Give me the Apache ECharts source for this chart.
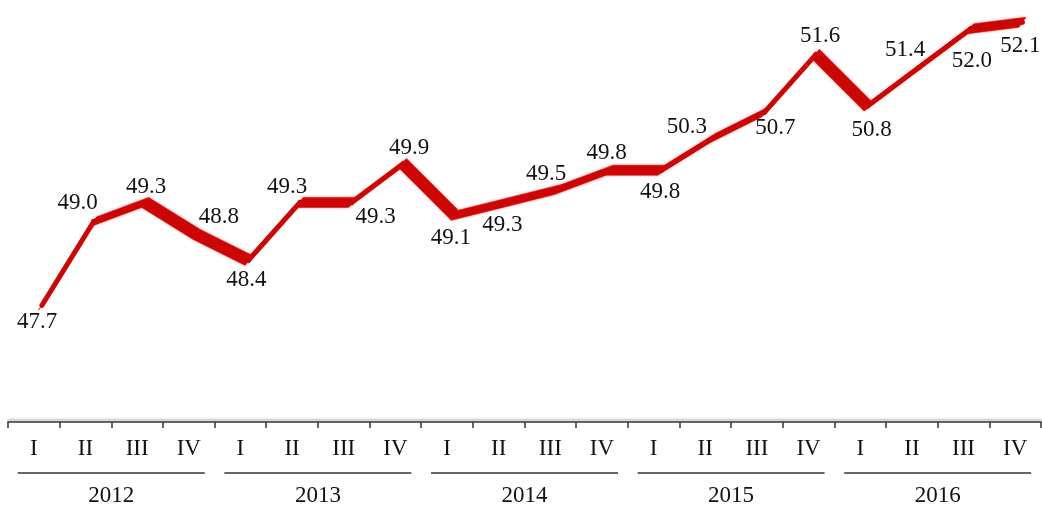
<!DOCTYPE html>
<html>
  <head>
    <meta charset="utf-8" />
    <title>Quarterly index 2012-2016</title>
    <script src="https://cdn.jsdelivr.net/npm/echarts@6/dist/echarts.min.js"></script>
    <style>
      html, body { margin: 0; padding: 0; background: #fff; }
      #main { width: 1042px; height: 508px; }
    </style>
  </head>

  <body>
    <div id="main"></div>
    <script type="text/javascript">
      // chart data
      var quarters = ["I", "II", "III", "IV", "I", "II", "III", "IV", "I", "II",
                      "III", "IV", "I", "II", "III", "IV", "I", "II", "III", "IV"];
      var years = ["2012", "2013", "2014", "2015", "2016"];
      var values = [47.7, 49.0, 49.3, 48.8, 48.4, 49.3, 49.3, 49.9, 49.1, 49.3,
                    49.5, 49.8, 49.8, 50.3, 50.7, 51.6, 50.8, 51.4, 52.0, 52.1];

      // where each value label sits relative to its point (px)
      var labelShift = [[-5, 17], [-16, -19], [1, -15], [22, -18], [-2, 20],
                        [-13, -15], [24, 15], [6, -16], [-4, 23], [-4, 23],
                        [-12, -16], [-3, -17], [-1, 22], [-26, -11], [11, 16],
                        [4, -19], [4, 24], [-14, -17], [1, 32], [-2, 24]];

      var red = "#cc0505";
      var font = "Liberation Serif";
      var depth = [-7, 10]; // ribbon "3D" depth vector

      var segData = values.map(function (v, i) {
        return [i, v, i < values.length - 1 ? values[i + 1] : v];
      });

      // ribbon piece from point i to point i+1
      function renderRibbon(params, api) {
        var i = api.value(0);
        if (i >= values.length - 1) return;
        var a = api.coord([i, api.value(1)]);
        var b = api.coord([i + 1, api.value(2)]);
        var hx = depth[0] / 2, hy = depth[1] / 2;
        return {
          type: "group",
          children: [
            {
              type: "polygon",
              shape: {
                points: [
                  [a[0] - hx, a[1] - hy],
                  [b[0] - hx, b[1] - hy],
                  [b[0] + hx, b[1] + hy],
                  [a[0] + hx, a[1] + hy],
                ],
              },
              style: {
                fill: red,
                stroke: red,
                lineWidth: 0.5,
                shadowBlur: 3,
                shadowColor: "rgba(230,60,60,0.45)",
              },
            },
            {
              type: "line",
              shape: { x1: a[0], y1: a[1], x2: b[0], y2: b[1] },
              style: { stroke: red, lineWidth: 5, lineCap: "round" },
            },
          ],
        };
      }

      function renderLabel(params, api) {
        var i = api.value(0);
        var p = api.coord([i, api.value(1)]);
        return {
          type: "text",
          style: {
            text: values[i].toFixed(1),
            x: p[0] + labelShift[i][0],
            y: p[1] + labelShift[i][1],
            fill: "#111",
            font: "23px '" + font + "'",
            align: "center",
            verticalAlign: "middle",
          },
        };
      }

      var myChart = echarts.init(document.getElementById("main"));
      var option = {
        animation: false,
        backgroundColor: "#fff",
        grid: [
          { left: 8, right: 1, top: 0, bottom: 86 },
          { left: 42, right: 19.6, top: 3, bottom: 183.4 },
        ],
        xAxis: [
          {
            type: "category",
            gridIndex: 0,
            data: quarters,
            boundaryGap: true,
            axisLine: {
              lineStyle: {
                color: "#333",
                width: 1.5,
                shadowColor: "rgba(0,0,0,0.3)",
                shadowOffsetY: -2,
                shadowBlur: 2,
              },
            },
            axisTick: { show: true, length: 6, lineStyle: { color: "#333", width: 1.5 } },
            axisLabel: {
              interval: 0,
              margin: 15,
              fontSize: 23,
              fontFamily: font,
              color: "#111",
            },
          },
          {
            type: "category",
            gridIndex: 0,
            position: "bottom",
            data: years,
            boundaryGap: true,
            axisLine: { show: false },
            axisTick: { show: false },
            axisLabel: {
              interval: 0,
              margin: 50,
              formatter: function (v) {
                return "{u| }\n{y|" + v + "}";
              },
              rich: {
                u: { width: 187, height: 1.5, backgroundColor: "#333", fontSize: 1, lineHeight: 2 },
                y: { fontSize: 23, fontFamily: font, color: "#111", lineHeight: 44 },
              },
            },
          },
          {
            type: "category",
            gridIndex: 1,
            data: quarters,
            boundaryGap: false,
            show: false,
          },
        ],
        yAxis: [
          { type: "value", gridIndex: 0, show: false },
          { type: "value", gridIndex: 1, min: 47.4, max: 52.4, show: false },
        ],
        series: [
          {
            type: "custom",
            xAxisIndex: 2,
            yAxisIndex: 1,
            data: segData,
            encode: { x: 0, y: 1 },
            renderItem: renderRibbon,
            z: 2,
          },
          {
            type: "custom",
            xAxisIndex: 2,
            yAxisIndex: 1,
            data: segData,
            encode: { x: 0, y: 1 },
            renderItem: renderLabel,
            z: 5,
          },
        ],
      };
      myChart.setOption(option);
    </script>
  </body>
</html>
